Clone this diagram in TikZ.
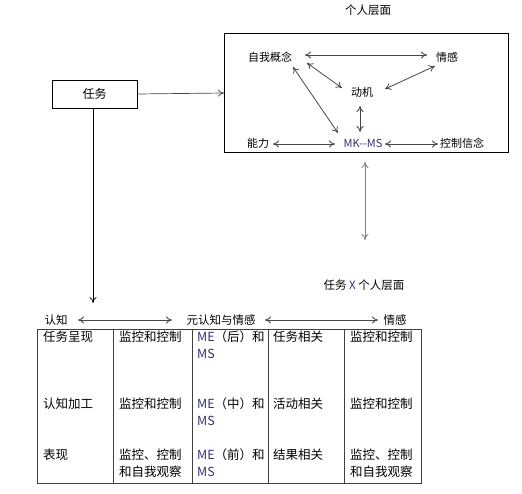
\documentclass[tikz,border=0pt]{standalone}
\usepackage{fontspec}
\setmainfont{Noto Sans CJK SC}
\usetikzlibrary{arrows.meta}
\definecolor{latblue}{RGB}{50,50,115}
\definecolor{arrgray}{RGB}{70,70,70}
\tikzset{
  lbl/.style={inner sep=0pt, font=\fontsize{11}{13}\selectfont},
  tlbl/.style={inner sep=0pt, font=\fontsize{11.5}{14}\selectfont},
  cell/.style={inner sep=0pt, anchor=north west, align=left, font=\fontsize{12.5}{17}\selectfont},
  dbl/.style={{To[length=6pt,width=7pt]}-{To[length=6pt,width=7pt]}, draw=arrgray, line width=0.8pt},
  sgl/.style={-{To[length=6pt,width=7pt]}, draw=black, line width=0.7pt},
}
\begin{document}
\begin{tikzpicture}[x=1pt,y=-1pt]
\useasboundingbox (0,0) rectangle (522,493);
% top title
\node[tlbl] (title) at (368,10) {个人层面};
% personal level box
\draw[black, line width=0.9pt] (224,33) rectangle (508,152);
\coordinate (pbl) at (224,93);
\node[lbl] (self) at (270,57) {自我概念};
\node[lbl] (emo) at (447,57) {情感};
\node[lbl] (mot) at (362,92) {动机};
\node[lbl] (abil) at (258,143) {能力};
\node[lbl, text=latblue] (mk) at (363,143) {MK{-}{-}MS};
\node[lbl] (ctrl) at (462,143) {控制信念};
\draw[dbl] (305,55) -- (427,55);
\draw[dbl] (307,63) -- (342,88);
\draw[dbl] (435,66) -- (385,89);
\draw[dbl] (293,67) -- (338,133);
\draw[dbl] (360,106) -- (360,132);
\draw[dbl] (273,144) -- (335,144);
\draw[dbl] (385,144) -- (438,144);
% task box
\node[draw=black, line width=0.9pt, minimum width=85pt, minimum height=28pt, inner sep=0pt, font=\fontsize{12}{14}\selectfont] (task) at (94.5,94) {任务};
\draw[sgl, draw=arrgray] (task.east) -- (pbl);
\coordinate (down) at (93,303);
\draw[sgl] (task.south -| down) -- (down);
% vertical double arrow
\coordinate (va) at (365,162);
\coordinate (vb) at (365,240);
\draw[dbl, draw=gray] (va) -- (vb);
% task x personal
\node[tlbl] (txp) at (364,285) {任务 \textcolor{latblue}{X} 个人层面};
% header row
\node[tlbl] (cog) at (56,320) {认知};
\node[tlbl] (meta) at (221,320) {元认知与情感};
\node[tlbl] (aff) at (395,320) {情感};
\draw[dbl] (78,320) -- (172,320);
\draw[dbl] (265,320) -- (378,320);
% table
\draw[black!75, line width=0.9pt] (37,329) rectangle (421,483);
\foreach \xx in {113,192,268,344} \draw[black!75, line width=0.9pt] (\xx,329) -- (\xx,483);
% row 1
\node[cell] (r1c1) at (43,331) {任务呈现};
\node[cell] (r1c2) at (119,331) {监控和控制};
\node[cell] (r1c3) at (197,331) {\textcolor{latblue}{ME}（后）和\\\textcolor{latblue}{MS}};
\node[cell] (r1c4) at (273,331) {任务相关};
\node[cell] (r1c5) at (350,331) {监控和控制};
% row 2
\node[cell] (r2c1) at (43,398) {认知加工};
\node[cell] (r2c2) at (119,398) {监控和控制};
\node[cell] (r2c3) at (197,398) {\textcolor{latblue}{ME}（中）和\\\textcolor{latblue}{MS}};
\node[cell] (r2c4) at (273,398) {活动相关};
\node[cell] (r2c5) at (350,398) {监控和控制};
% row 3
\node[cell] (r3c1) at (43,449) {表现};
\node[cell] (r3c2) at (119,449) {监控、控制\\和自我观察};
\node[cell] (r3c3) at (197,449) {\textcolor{latblue}{ME}（前）和\\\textcolor{latblue}{MS}};
\node[cell] (r3c4) at (273,449) {结果相关};
\node[cell] (r3c5) at (350,449) {监控、控制\\和自我观察};
\end{tikzpicture}
\end{document}
